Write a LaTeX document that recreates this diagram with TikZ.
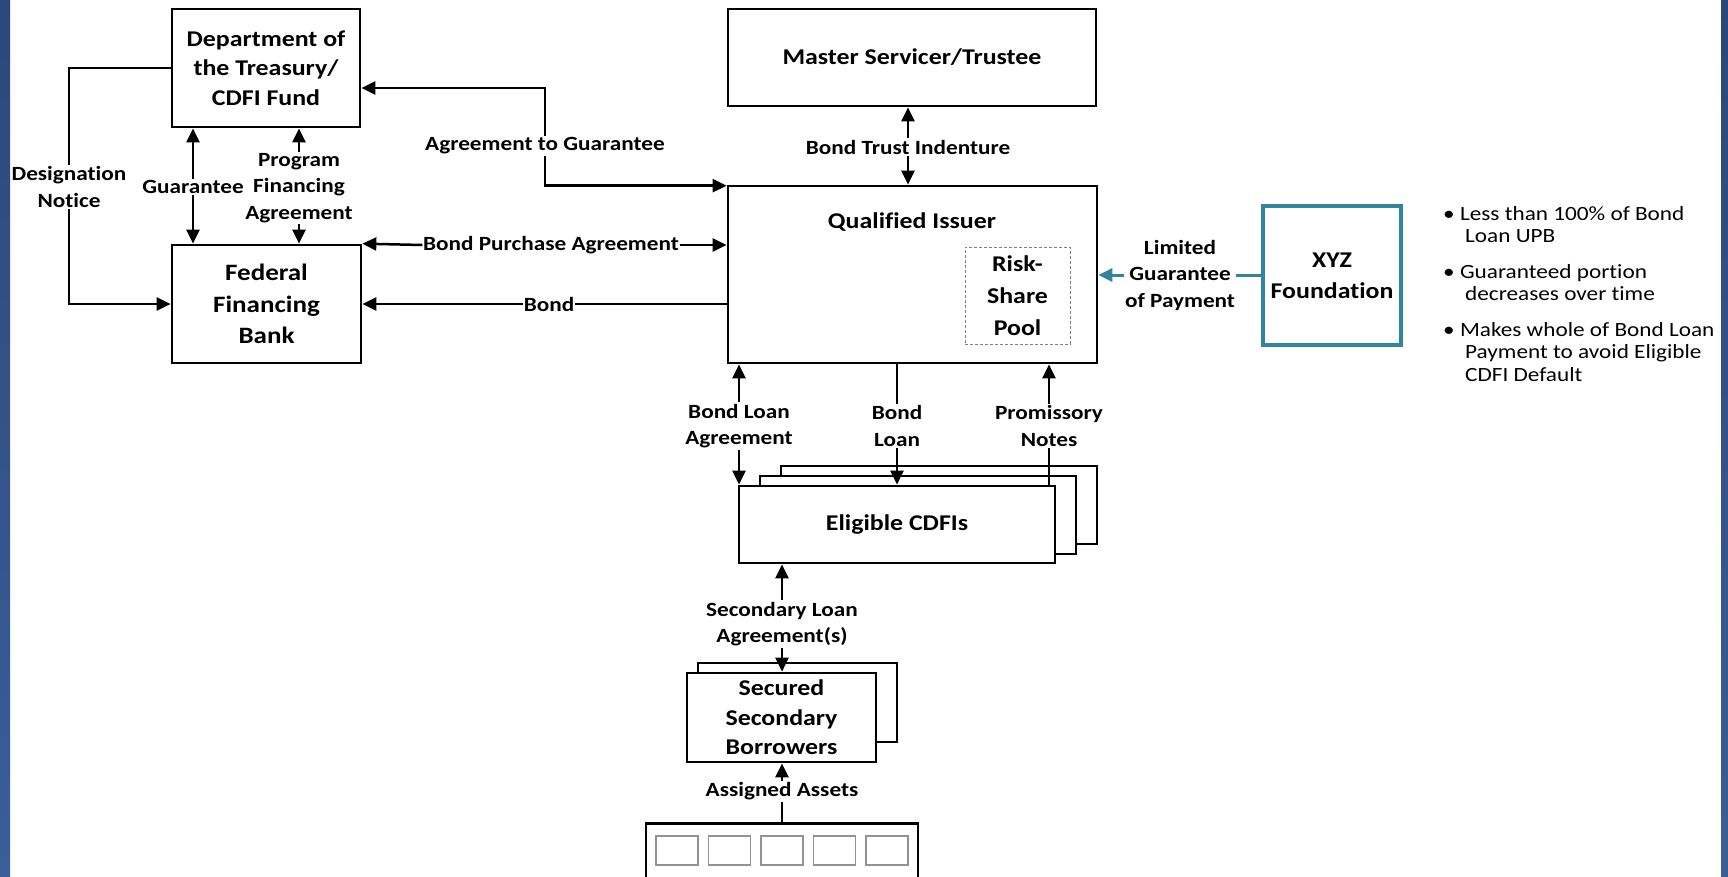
\documentclass[tikz,border=0pt]{standalone}
\usepackage{fontspec}
\setmainfont{Carlito}[FakeStretch=1.15, Ligatures=NoCommon]
\usetikzlibrary{arrows.meta}
\definecolor{tealc}{RGB}{49,133,156}
\definecolor{stripTop}{RGB}{44,72,122}
\definecolor{stripBot}{RGB}{58,94,152}
\newcommand\boxfont{\bfseries\fontsize{22.5}{29.5}\selectfont}
\newcommand\bigboxfont{\bfseries\fontsize{23.5}{31.5}\selectfont}
\newcommand\labfont{\bfseries\fontsize{20.2}{26.5}\selectfont}
\newcommand\bulfont{\fontsize{20.2}{22.5}\selectfont}
\tikzset{
  box/.style={draw, line width=2.7pt, inner sep=0pt, align=center, font=\boxfont},
  boxline/.style={draw, line width=2.7pt},
  lab/.style={fill=white, inner xsep=0.5pt, inner ysep=1.5pt, align=center, font=\labfont},
  conn/.style={line width=2.5pt},
  arr/.style={conn, -{Triangle[length=14pt,width=13pt]}},
}
\begin{document}
\begin{tikzpicture}[x=1pt,y=-1pt]
\useasboundingbox (0,0) rectangle (1728,876);
\clip (0,0) rectangle (1728,876);
\fill[white] (0,0) rectangle (1728,876);

% boxes
\node[box, minimum width=188pt, minimum height=118pt] (treas) at (266,68) {Department of\\the Treasury/\\CDFI Fund};
\node[box, font=\bigboxfont, minimum width=189pt, minimum height=118pt] (ffb) at (266.5,304) {Federal\\Financing\\Bank};
\node[box, minimum width=368pt, minimum height=97pt] (master) at (912,57.5) {Master Servicer/Trustee};
\node[box, minimum width=369pt, minimum height=177pt] (qi) at (912.5,274.5) {};
\node[font=\boxfont] (qit) at (912,222) {Qualified Issuer};
\node[draw=gray, line width=1pt, dash pattern=on 3pt off 2pt, minimum width=105pt, minimum height=97pt, inner sep=0pt, align=center, font=\bfseries\fontsize{22.5}{32}\selectfont] (risk) at (1017.5,295.5) {Risk-\\Share\\Pool};
\node[box, draw=tealc, line width=3.5pt, font=\bfseries\fontsize{22.5}{31}\selectfont, minimum width=138pt, minimum height=139pt] (xyz) at (1332,275.5) {XYZ\\Foundation};

% Eligible CDFIs stack
\draw[boxline, fill=white] (781,466) rectangle (1097,544);
\draw[boxline, fill=white] (760,476) rectangle (1076,554);
\node[box, fill=white, minimum width=316pt, minimum height=77pt] (cdfi) at (897,524.5) {Eligible CDFIs};

% Secured Secondary Borrowers stack
\draw[boxline, fill=white] (698,663) rectangle (897,742);
\node[box, fill=white, minimum width=189pt, minimum height=89pt] (ssb) at (781.5,717.5) {Secured\\Secondary\\Borrowers};

% Assigned assets
\node[box, minimum width=272pt, minimum height=100pt, anchor=north] (assets) at (782,822) {};
\foreach \i in {0,...,4}{
  \draw[gray!85, line width=1.5pt] ({656+52.5*\i},836) rectangle ({698+52.5*\i},865);
}

% labels
\node[lab] (dn) at (69,187) {Designation\\Notice};
\node[lab] (gu) at (193,187) {Guarantee};
\node[lab] (pfa) at (299,188) {Program\\Financing\\Agreement};
\node[lab] (atg) at (545,146) {Agreement to Guarantee};
\node[lab] (bti) at (908,147) {Bond Trust Indenture};
\node[lab] (bpa) at (551,245) {Bond Purchase Agreement};
\node[lab] (bond) at (549,304) {Bond};
\node[lab] (lg) at (1180,275) {Limited\\Guarantee\\of Payment};
\node[lab] (bla) at (739,426) {Bond Loan\\Agreement};
\node[lab] (bln) at (897,426) {Bond\\Loan};
\node[lab] (pn) at (1049,426) {Promissory\\Notes};
\node[lab] (sla) at (782,624) {Secondary Loan\\Agreement(s)};
\node[lab] (aa) at (782,791) {Assigned Assets};

% connectors
\draw[conn] (treas.west) -| (dn.north);
\draw[arr] (dn.south) |- (ffb.west);
\draw[arr] (gu.north) -- (gu.north |- treas.south);
\draw[arr] (gu.south) -- (gu.south |- ffb.north);
\draw[arr] (pfa.north) -- (pfa.north |- treas.south);
\draw[arr] (pfa.south) -- (pfa.south |- ffb.north);
\draw[arr] (atg.north) |- ([yshift=-20pt]treas.east);
\draw[arr] (atg.south) |- ([yshift=-1pt]qi.north west);
\draw[arr] (bti.north) -- (bti.north |- master.south);
\draw[arr] (bti.south) -- (bti.south |- qi.north);
\draw[arr] (bpa.west) -- (ffb.north east);
\draw[arr] (bpa.east) -- (bpa.east -| qi.west);
\draw[arr] (bond.west) -- (ffb.east);
\draw[conn] (bond.east) -- (bond.east -| qi.west);
\draw[arr, tealc, line width=3pt] (lg.west) -- (lg.west -| qi.east);
\draw[conn, tealc, line width=3pt] (lg.east) -- (lg.east -| xyz.west);
\draw[arr] (bla.north) -- (bla.north |- qi.south);
\draw[arr] (bla.south) -- (bla.south |- cdfi.north);
\draw[conn] (bln.north |- qi.south) -- (bln.north);
\draw[arr] (bln.south) -- (bln.south |- cdfi.north);
\draw[arr] (pn.north) -- (pn.north |- qi.south);
\draw[conn] (pn.south) -- (pn.south |- cdfi.north);
\draw[arr] (sla.north) -- (sla.north |- cdfi.south);
\draw[arr] (sla.south) -- (sla.south |- ssb.north);
\draw[arr] (aa.north) -- (aa.north |- ssb.south);
\draw[conn] (aa.south) -- (aa.south |- assets.north);

% notes
\node[font=\bulfont, align=left, anchor=north west, inner sep=0pt] (notes) at (1443,206)
 {\textbullet\ Less than 100\% of Bond\\\hspace*{22pt}Loan UPB\\[13pt]
  \textbullet\ Guaranteed portion\\\hspace*{22pt}decreases over time\\[13pt]
  \textbullet\ Makes whole of Bond Loan\\\hspace*{22pt}Payment to avoid Eligible\\\hspace*{22pt}CDFI Default};

% side strips
\shade[top color=stripTop, bottom color=stripBot] (0,0) rectangle (10,876);
\shade[top color=stripTop, bottom color=stripBot] (1721,0) rectangle (1728,876);
\end{tikzpicture}
\end{document}
